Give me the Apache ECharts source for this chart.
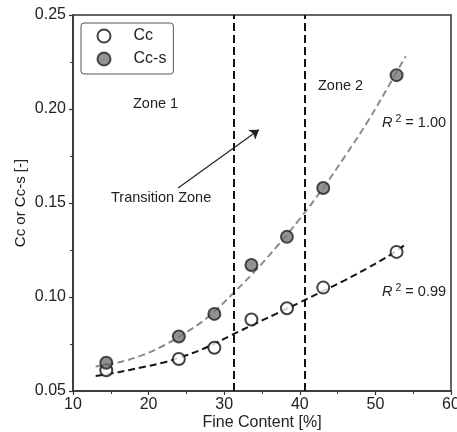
<!DOCTYPE html>
<html><head><meta charset="utf-8">
<script src="https://cdn.jsdelivr.net/npm/echarts@6/dist/echarts.min.js"></script>
<style>html,body{margin:0;padding:0;background:#fff}#c{width:457px;height:432px}</style>
</head><body><div id="c"></div>
<script>
// ---- data ----
const fineContent = [14.4, 24.0, 28.7, 33.6, 38.3, 43.1, 52.8];
const ccValues    = [0.061, 0.067, 0.073, 0.088, 0.094, 0.105, 0.124];
const ccsValues   = [0.065, 0.079, 0.091, 0.117, 0.132, 0.158, 0.218];
// dashed trend curves
const fitX   = [13, 16, 19, 22, 25, 28, 31, 34, 37, 40, 43, 46, 49, 52, 54];
const ccFit  = [0.0580, 0.0600, 0.0625, 0.0652, 0.0690, 0.0738, 0.0798, 0.0856, 0.0913, 0.0971, 0.1030, 0.1090, 0.1155, 0.1225, 0.1280];
const ccsFit = [0.0630, 0.0652, 0.0688, 0.0742, 0.0812, 0.0898, 0.1012, 0.1135, 0.1270, 0.1415, 0.1575, 0.1750, 0.1935, 0.2140, 0.2280];
const zoneBounds = [31.25, 40.65];
const arrowFrom = [23.9, 0.158];
const arrowTo   = [34.6, 0.189];
const xTickLabels = ['10', '20', '30', '40', '50', '60'];
const yTickLabels = ['0.05', '0.10', '0.15', '0.20', '0.25'];
const seriesNames = ['Cc', 'Cc-s'];

const FONT = '"Liberation Sans", Arial, Helvetica, sans-serif';
const pair = (xs, ys) => xs.map((x, i) => [x, ys[i]]);
const axisCol = '#333';
const txt = (x, y, text, size) => ({type: 'text', x: x, y: y, silent: true,
  style: {text: text, fontSize: size, fontFamily: FONT, fill: '#222', verticalAlign: 'middle'}});
const r2 = (x, y, val) => ({type: 'text', x: x, y: y, silent: true,
  style: {text: '{i|R}{s|2}{n| = ' + val + '}', fill: '#222', verticalAlign: 'middle', fontSize: 14.5, fontFamily: FONT,
    rich: {i: {fontStyle: 'italic', fontSize: 14.5, fontFamily: FONT, fill: '#222'},
           s: {fontSize: 10.5, fontFamily: FONT, fill: '#222', padding: [0, 0, 8, 3]},
           n: {fontSize: 14.5, fontFamily: FONT, fill: '#222'}}}});

const chart = echarts.init(document.getElementById('c'), null, {renderer: 'canvas'});
chart.setOption({
  animation: false,
  textStyle: {fontFamily: FONT, color: '#222'},
  grid: {left: 73, right: 6, top: 15, bottom: 41, containLabel: false, outerBoundsMode: 'none',
         show: true, borderColor: axisCol, borderWidth: 1.5, backgroundColor: 'transparent'},
  legend: {
    orient: 'vertical', left: 81, top: 23,
    data: [
      {name: seriesNames[0], icon: 'circle', itemStyle: {color: '#fff', borderColor: '#111', borderWidth: 2}},
      {name: seriesNames[1], icon: 'circle', itemStyle: {color: '#777', borderColor: '#222', borderWidth: 2}}
    ],
    itemWidth: 13, itemHeight: 13, itemGap: 7,
    padding: [5, 7, 7, 15.5],
    borderColor: '#555', borderWidth: 1, borderRadius: 3,
    textStyle: {fontSize: 16, color: '#222', padding: [0, 0, 0, 18], lineHeight: 16}
  },
  xAxis: {
    type: 'value', min: 10, max: 60, interval: 10,
    name: 'Fine Content [%]', nameLocation: 'middle', nameGap: 24, nameMoveOverlap: false,
    nameTextStyle: {fontSize: 16, color: '#222'},
    axisLine: {show: true, onZero: false, lineStyle: {color: axisCol, width: 1.5}},
    axisTick: {show: true, inside: false, length: 4, lineStyle: {color: axisCol, width: 1.2}},
    minorTick: {show: true, splitNumber: 2, length: 3, lineStyle: {color: axisCol, width: 1}},
    splitLine: {show: false},
    axisLabel: {fontSize: 16, color: '#222', margin: 6,
      formatter: v => xTickLabels[Math.round((v - 10) / 10)] ?? ''}
  },
  yAxis: {
    type: 'value', min: 0.05, max: 0.25, interval: 0.05,
    name: 'Cc or Cc-s [-]', nameLocation: 'middle', nameGap: 45, nameMoveOverlap: false,
    nameTextStyle: {fontSize: 15, color: '#222'},
    axisLine: {show: true, onZero: false, lineStyle: {color: axisCol, width: 1.5}},
    axisTick: {show: true, inside: false, length: 4, lineStyle: {color: axisCol, width: 1.2}},
    minorTick: {show: true, splitNumber: 2, length: 3, lineStyle: {color: axisCol, width: 1}},
    splitLine: {show: false},
    axisLabel: {fontSize: 16, color: '#222', margin: 7,
      formatter: v => yTickLabels[Math.round((v - 0.05) / 0.05)] ?? ''}
  },
  series: [
    {
      name: 'Cc-s fit', type: 'line', data: pair(fitX, ccsFit), smooth: 0.4,
      showSymbol: false, symbol: 'none', silent: true, z: 2,
      lineStyle: {color: '#8c8c8c', width: 2, type: [7, 4]},
      markLine: {
        silent: true, symbol: 'none', animation: false,
        label: {show: false},
        lineStyle: {color: '#111', width: 2, type: [8, 4]},
        data: zoneBounds.map(v => ({xAxis: v}))
      }
    },
    {
      name: 'Cc fit', type: 'line', data: pair(fitX, ccFit), smooth: 0.4,
      showSymbol: false, symbol: 'none', silent: true, z: 2,
      lineStyle: {color: '#151515', width: 2, type: [7, 4]},
      markLine: {
        silent: true, symbol: ['none', 'arrow'], symbolSize: 9, animation: false,
        label: {show: false},
        lineStyle: {color: '#222', width: 1.2, type: 'solid'},
        data: [[{coord: arrowFrom}, {coord: arrowTo}]]
      }
    },
    {
      name: seriesNames[0], type: 'scatter', data: pair(fineContent, ccValues),
      symbol: 'circle', symbolSize: 12, z: 5,
      itemStyle: {color: '#fff', borderColor: '#111', borderWidth: 2}
    },
    {
      name: seriesNames[1], type: 'scatter', data: pair(fineContent, ccsValues),
      symbol: 'circle', symbolSize: 12, z: 5,
      itemStyle: {color: '#777', borderColor: '#222', borderWidth: 2}
    }
  ],
  graphic: [
    txt(133, 104, 'Zone 1', 14.5),
    txt(318, 86, 'Zone 2', 14.5),
    txt(111, 198, 'Transition Zone', 14.5),
    r2(382, 123, '1.00'),
    r2(382, 292, '0.99')
  ]
});
</script>
</body></html>
